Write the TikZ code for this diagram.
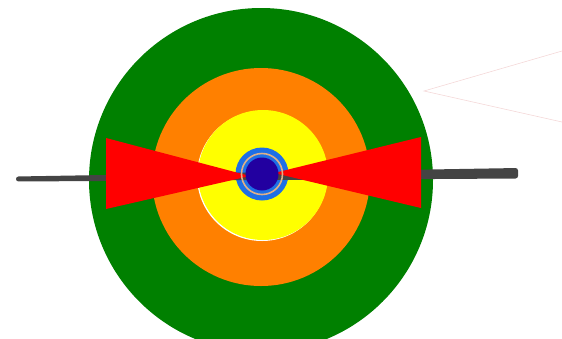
\documentclass[tikz,border=0pt]{standalone}
\usepackage{tikz}

\definecolor{targetgreen}{HTML}{008000}
\definecolor{targetorange}{HTML}{FF8000}
\definecolor{targetyellow}{HTML}{FFFF00}
\definecolor{hubblue}{HTML}{1E6FE6}
\definecolor{hubdark}{HTML}{2200A0}
\definecolor{ringtan}{HTML}{E0B088}
\definecolor{stickgray}{HTML}{444444}
\definecolor{faintpink}{HTML}{F4D8D8}

\begin{document}
\begin{tikzpicture}[
    x=1pt, y=-1pt,
    disc/.style={fill=#1, draw=none},
    wing/.style={fill=red, draw=none},
    ray/.style={draw=faintpink, line width=0.6pt},
  ]
  \useasboundingbox (0,0) rectangle (562,338);
  \clip (0,0) rectangle (562,338);

  % target rings
  \fill[disc=targetgreen]  (261,180) circle (172);
  \fill[disc=targetorange] (261,177) circle (109);
  \fill[disc=white]        (262,176) circle (65);
  \fill[disc=targetyellow] (263,175) circle (65);
  \fill[disc=hubblue]      (262,174) circle (26.5);

  % stick
  \fill[stickgray, rounded corners=2.5pt]
    (16,176.5) -- (518,168) -- (518,178.5) -- (16,181.5) -- cycle;

  % bow tie
  \fill[wing] (106,138) -- (106,209) -- (250,176) -- cycle;
  \fill[wing] (421,137) -- (421,208) -- (274,173) -- cycle;

  % hub
  \draw[ringtan, line width=1.6pt] (262,174) circle (20.5);
  \fill[disc=hubdark]      (262,174) circle (16.5);

  % faint rays
  \coordinate (apex) at (424,91);
  \coordinate (rayup) at (562,51);
  \coordinate (raydown) at (562,122);
  \draw[ray] (rayup) -- (apex) -- (raydown);
\end{tikzpicture}
\end{document}
